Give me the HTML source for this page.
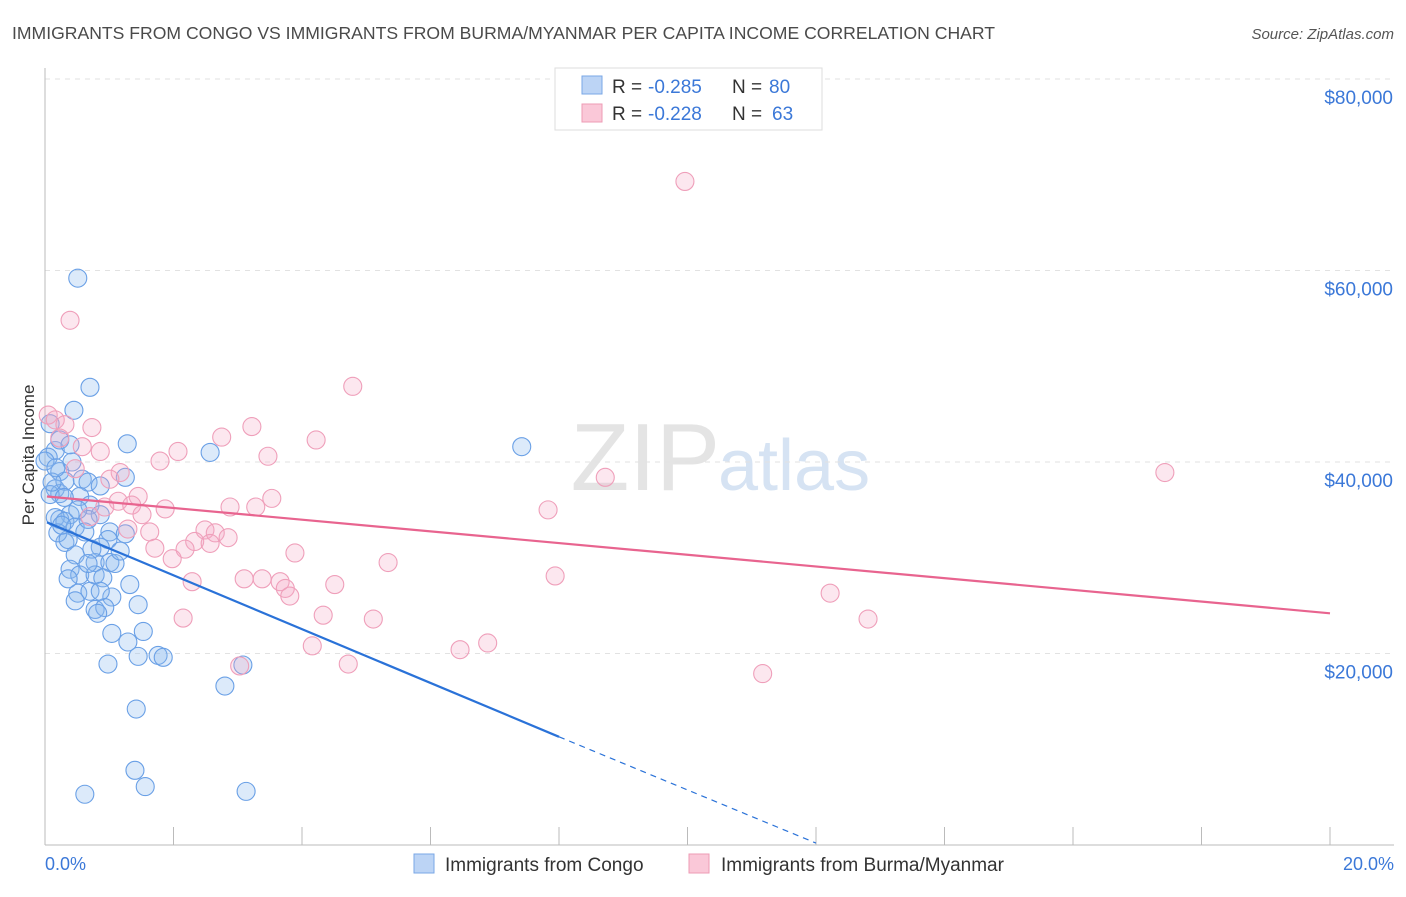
<!DOCTYPE html>
<html><head><meta charset="utf-8"><style>
body{margin:0;background:#fff;font-family:"Liberation Sans",sans-serif;}
svg text{font-family:"Liberation Sans",sans-serif;}
</style></head><body>
<svg id="chart" width="1406" height="892" xmlns="http://www.w3.org/2000/svg">
<text x="12" y="39" font-size="17.6" fill="#4a4a4a">IMMIGRANTS FROM CONGO VS IMMIGRANTS FROM BURMA/MYANMAR PER CAPITA INCOME CORRELATION CHART</text>
<text x="1394" y="39" font-size="15" fill="#555" text-anchor="end" font-style="italic">Source: ZipAtlas.com</text>
<text x="720" y="490" font-size="96" fill="#e4e4e4" text-anchor="end" font-family="Liberation Serif">ZIP</text>
<text x="718" y="490" font-size="72" fill="#d6e3f3">atlas</text>
<g id="grid"></g><g id="axes"></g><g id="pts"></g><g id="trends"></g>
<text transform="translate(34,455) rotate(-90)" font-size="17" fill="#333" text-anchor="middle">Per Capita Income</text>
<text x="45" y="870" font-size="18" fill="#3b78d8">0.0%</text>
<text x="1394" y="870" font-size="18" fill="#3b78d8" text-anchor="end">20.0%</text>
<g>
<rect x="555" y="68" width="267" height="62" fill="#fff" stroke="#ddd"/>
<rect x="582" y="76" width="20" height="18" fill="#bcd4f5" stroke="#7aa7e6"/>
<rect x="582" y="104" width="20" height="18" fill="#fac8d8" stroke="#ee9bb5"/>
<text x="612" y="93" font-size="19" fill="#333">R = </text><text x="648" y="93" font-size="19" fill="#3b78d8">-0.285</text>
<text x="732" y="93" font-size="19" fill="#333">N = </text><text x="769" y="93" font-size="19" fill="#3b78d8">80</text>
<text x="612" y="120" font-size="19" fill="#333">R = </text><text x="648" y="120" font-size="19" fill="#3b78d8">-0.228</text>
<text x="732" y="120" font-size="19" fill="#333">N = </text><text x="772" y="120" font-size="19" fill="#3b78d8">63</text>
</g>
<g>
<rect x="414" y="854" width="20" height="19" fill="#bcd4f5" stroke="#7aa7e6"/>
<text x="445" y="871" font-size="19" fill="#333">Immigrants from Congo</text>
<rect x="689" y="854" width="20" height="19" fill="#fac8d8" stroke="#ee9bb5"/>
<text x="721" y="871" font-size="19" fill="#333">Immigrants from Burma/Myanmar</text>
</g>
</svg>
<script>
const yTicks=[20000,40000,60000,80000];
const yTickLabels=["$20,000","$40,000","$60,000","$80,000"];
const congoX=[0.51,0.70,0.45,1.28,2.57,7.42,0.08,0.16,0.23,0.42,0.05,0.16,0.23,0.08,0.31,0.58,0.67,1.25,0.54,0.70,0.86,0.39,0.23,0.16,0.31,0.47,0.67,1.01,0.98,1.25,0.31,0.47,0.86,0.78,1.01,0.39,0.54,0.78,0.90,0.36,1.32,0.51,0.70,1.04,1.45,0.78,0.93,0.82,1.04,1.53,1.29,1.45,1.76,1.84,0.98,3.08,2.80,1.42,1.40,1.56,0.62,3.13,0.23,0.39,0.11,0.00,0.20,0.86,1.09,0.51,0.36,0.62,0.26,0.73,1.17,0.47,0.67,0.17,0.30,0.86];
const congoY=[59.2,47.8,45.4,41.9,41.0,41.6,44.0,41.2,39.0,40.0,40.5,37.2,36.7,36.6,38.0,38.2,37.9,38.4,36.4,35.5,34.5,34.5,34.0,34.2,33.8,33.2,34.0,32.7,31.9,32.5,31.6,30.3,31.1,29.5,29.5,28.8,28.2,28.2,27.9,27.8,27.2,26.3,26.5,25.9,25.1,24.6,24.8,24.2,22.1,22.3,21.2,19.7,19.8,19.6,18.9,18.8,16.6,14.2,7.8,6.1,5.3,5.6,42.3,41.8,37.9,40.1,32.6,37.5,29.4,35.0,31.9,32.7,33.4,30.9,30.7,25.5,29.4,39.4,36.3,26.5];
const burmaX=[9.96,0.39,4.79,0.05,0.16,0.31,0.73,3.22,4.22,2.75,2.07,0.86,1.79,3.47,0.47,1.17,1.01,8.72,17.43,1.45,1.14,1.35,3.53,2.88,3.28,1.87,7.83,1.51,0.70,1.29,1.63,2.49,2.65,2.85,2.33,2.57,1.71,2.18,1.98,3.89,5.34,3.10,3.38,3.66,2.29,3.74,4.51,3.81,7.94,12.22,12.81,2.15,4.33,5.11,4.16,6.89,6.46,4.72,3.03,11.17,0.58,0.23,0.93];
const burmaY=[69.3,54.8,47.9,44.9,44.4,43.9,43.6,43.7,42.3,42.6,41.1,41.1,40.1,40.6,39.3,38.9,38.2,38.4,38.9,36.4,35.9,35.5,36.2,35.3,35.3,35.1,35.0,34.5,34.3,33.0,32.7,32.9,32.6,32.1,31.7,31.5,31.0,30.9,29.9,30.5,29.5,27.8,27.8,27.5,27.5,26.8,27.2,26.0,28.1,26.3,23.6,23.7,24.0,23.6,20.8,21.1,20.4,18.9,18.7,17.9,41.6,42.5,35.3];
const X0=45,X1=1330,Y0=845,PERK=191.5/20;
function xs(v){return X0+(v/20)*(X1-X0);}
function ys(v){return Y0-v*PERK;}
const NS="http://www.w3.org/2000/svg";
function mk(t,a,p){const e=document.createElementNS(NS,t);for(const k in a)e.setAttribute(k,a[k]);p.appendChild(e);return e;}
const grid=document.getElementById('grid'),axes=document.getElementById('axes');
yTicks.forEach((t,i)=>{
 const l=mk('line',{x1:45,x2:1394,y1:ys(t/1000),y2:ys(t/1000),stroke:'#e2e2e2','stroke-dasharray':'5,5'},grid);
 
 
 const tx=mk('text',{x:1393,y:ys(t/1000)+25,'font-size':19,fill:'#3b78d8','text-anchor':'end'},axes);
 tx.textContent=yTickLabels[i];
 
 
});
const a1=mk('line',{x1:45,x2:45,y1:68,y2:845,stroke:'#bbb'},axes);


const a2=mk('line',{x1:45,x2:1394,y1:845,y2:845,stroke:'#bbb'},axes);


for(let i=0;i<=10;i++){const t=mk('line',{x1:xs(i*2),x2:xs(i*2),y1:827,y2:845,stroke:'#bbb'},axes);
 
 }
const pts=document.getElementById('pts');
congoX.forEach((x,i)=>{const c=mk('circle',{cx:xs(x),cy:ys(congoY[i]),r:9,fill:'rgba(140,185,240,0.3)',stroke:'#6aa0e6','stroke-width':1.1},pts);
 
 });
burmaX.forEach((x,i)=>{const c=mk('circle',{cx:xs(x),cy:ys(burmaY[i]),r:9,fill:'rgba(245,170,198,0.28)',stroke:'#ef9fba','stroke-width':1.1},pts);
 
 });
const tr=document.getElementById('trends');
const b1=mk('line',{x1:xs(0.03),y1:ys(33.7),x2:xs(8.0),y2:ys(11.3),stroke:'#2a72d8','stroke-width':2.2},tr);


const b2=mk('line',{x1:xs(8.0),y1:ys(11.3),x2:xs(12.0),y2:ys(0.2),stroke:'#2a72d8','stroke-width':1.2,'stroke-dasharray':'6,5'},tr);


const p1=mk('line',{x1:xs(0.03),y1:ys(36.4),x2:xs(20),y2:ys(24.2),stroke:'#e8648f','stroke-width':2.2},tr);


</script>
</body></html>
